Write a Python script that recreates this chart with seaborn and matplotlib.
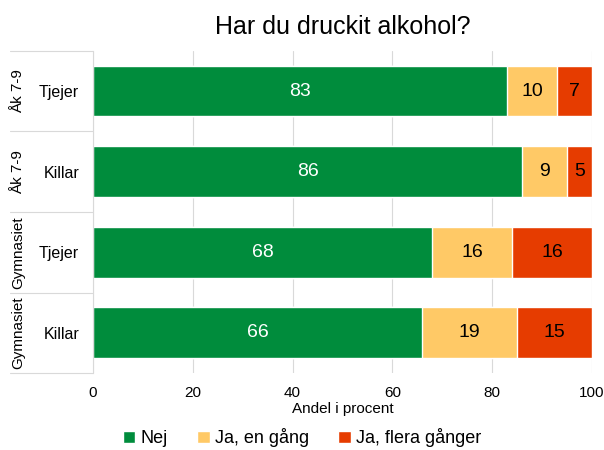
import matplotlib.pyplot as plt
import matplotlib.transforms as mtransforms
import seaborn as sns
import pandas as pd
import numpy as np

# Data
groups = ["Åk 7-9", "Åk 7-9", "Gymnasiet", "Gymnasiet"]
genders = ["Tjejer", "Killar", "Tjejer", "Killar"]
nej = [83, 86, 68, 66]
ja_en = [10, 9, 16, 19]
ja_flera = [7, 5, 16, 15]
series = ["Nej", "Ja, en gång", "Ja, flera gånger"]
colors = ["#008C3C", "#FFC966", "#E63C00"]
text_colors = ["white", "black", "black"]

rows = [f"{g}|{s}" for g, s in zip(groups, genders)]
df = pd.DataFrame({"row": rows, "Nej": nej, "Ja, en gång": ja_en, "Ja, flera gånger": ja_flera})
cum = df[series].cumsum(axis=1)

sns.set_style("white")
plt.rcParams["font.family"] = ["Liberation Sans", "DejaVu Sans"]
plt.rcParams["text.color"] = "black"
plt.rcParams["xtick.color"] = "black"
plt.rcParams["ytick.color"] = "black"
plt.rcParams["axes.labelcolor"] = "black"

fig = plt.figure(figsize=(6.04, 4.5), dpi=100)
ax = fig.add_axes([0.154, 0.171, 0.826, 0.716])

# stacked bars: draw cumulative totals from largest down
for name, col in reversed(list(zip(series, colors))):
    sns.barplot(x=cum[name], y=df["row"], orient="h", color=col, width=0.63,
                saturation=1, ax=ax, label=name, zorder=2)
handles, labels = ax.get_legend_handles_labels()
if ax.get_legend() is not None:
    ax.get_legend().remove()

# value labels
for i in range(len(df)):
    left = 0
    for name, tc in zip(series, text_colors):
        v = df[name][i]
        ax.text(left + v / 2, i, f"{v}", ha="center", va="center", color=tc, fontsize=14, zorder=3)
        left += v

ax.set_xlim(0, 100)
ax.set_ylim(len(df) - 0.5, -0.5)
ax.set_xticks(range(0, 101, 20))
ax.tick_params(axis="x", labelsize=11, length=4, color="#D9D9D9", pad=5, labelcolor="black")
ax.xaxis.grid(True, color="#D9D9D9", lw=0.8, zorder=0)
ax.set_axisbelow(True)
for s in ["top", "right", "bottom"]:
    ax.spines[s].set_visible(False)
ax.spines["left"].set_color("#D9D9D9")
ax.set_xlabel("Andel i procent", fontsize=11, labelpad=2, color="black")
ax.set_ylabel("")

# y labels: gender + rotated group
ax.set_yticks(range(len(df)))
ax.set_yticklabels(genders, fontsize=11.5, color="black")
ax.tick_params(axis="y", length=0, pad=10)
trans = mtransforms.blended_transform_factory(fig.transFigure, ax.transData)
for i, g in enumerate(groups):
    ax.text(0.03, i, g, rotation=90, ha="center", va="center", fontsize=11, transform=trans)
for b in np.arange(-0.5, len(df), 1):
    ax.plot([10 / 604, 0.154], [b, b], color="#D9D9D9", lw=0.8, transform=trans, clip_on=False)

ax.set_title("Har du druckit alkohol?", fontsize=18, pad=12, color="black")

order = [labels.index(s) for s in series]
fig.legend([handles[k] for k in order], series, loc="lower center", bbox_to_anchor=(0.5, -0.03),
           ncol=3, frameon=False, fontsize=13, handlelength=0.7, handleheight=0.7,
           handletextpad=0.3, columnspacing=1.6)

fig.savefig("out.png", dpi=100)
